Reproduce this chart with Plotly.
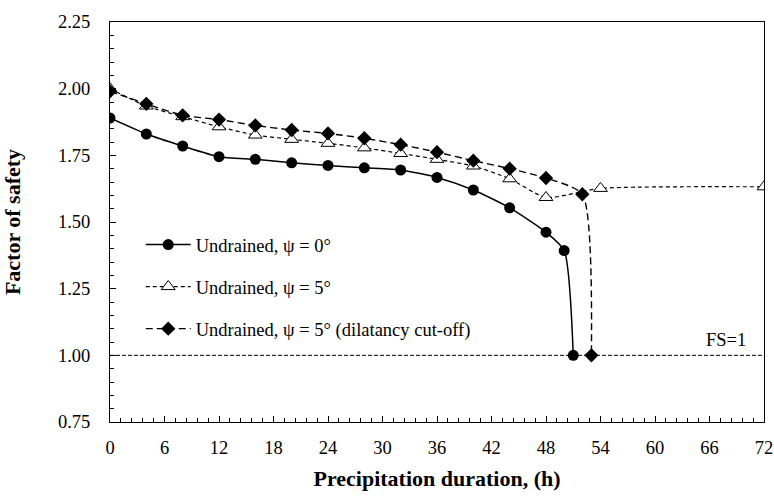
import plotly.graph_objects as go

# ---- data ----
hours_psi0 = [0, 4, 8, 12, 16, 20, 24, 28, 32, 36, 40, 44, 48, 50, 51]
fs_psi0 = [1.89, 1.83, 1.785, 1.745, 1.735, 1.722, 1.712, 1.703, 1.695, 1.667,
           1.62, 1.553, 1.462, 1.393, 1.0]

hours_psi5 = [0, 4, 8, 12, 16, 20, 24, 28, 32, 36, 40, 44, 48, 54, 72]
fs_psi5 = [2.0, 1.935, 1.895, 1.857, 1.826, 1.81, 1.795, 1.778, 1.757, 1.735,
           1.71, 1.662, 1.592, 1.626, 1.632]

hours_cut = [0, 4, 8, 12, 16, 20, 24, 28, 32, 36, 40, 44, 48, 52, 53]
fs_cut = [1.99, 1.943, 1.9, 1.884, 1.862, 1.845, 1.832, 1.814, 1.79, 1.762,
          1.73, 1.7, 1.665, 1.604, 1.0]

fs_line_x = [0, 72]
fs_line_y = [1.0, 1.0]

x_ticks = [0, 6, 12, 18, 24, 30, 36, 42, 48, 54, 60, 66, 72]
y_ticks = [0.75, 1.00, 1.25, 1.50, 1.75, 2.00, 2.25]
y_tick_text = ["0.75", "1.00", "1.25", "1.50", "1.75", "2.00", "2.25"]

FONT = "Liberation Serif, Times New Roman, serif"

fig = go.Figure()

fig.add_trace(go.Scatter(
    x=fs_line_x, y=fs_line_y, mode="lines", showlegend=False,
    line=dict(color="black", width=1, dash="4px,2px"), hoverinfo="skip"))

fig.add_trace(go.Scatter(
    x=hours_psi0, y=fs_psi0, mode="lines+markers",
    name="Undrained, \u03c8 = 0\u00b0", legendgroup="a",
    line=dict(color="black", width=1.5, shape="spline", smoothing=0.6),
    marker=dict(symbol="circle", size=11, color="black")))

fig.add_trace(go.Scatter(
    x=hours_psi5, y=fs_psi5, mode="lines+markers",
    name="Undrained, \u03c8 = 5\u00b0", legendgroup="b",
    line=dict(color="black", width=1.2, dash="4px,3px", shape="spline", smoothing=0.6),
    marker=dict(symbol="triangle-up", size=12, color="white",
                line=dict(color="black", width=1))))

fig.add_trace(go.Scatter(
    x=hours_cut, y=fs_cut, mode="lines+markers",
    name="Undrained, \u03c8 = 5\u00b0 (dilatancy cut-off)", legendgroup="c",
    line=dict(color="black", width=1.4, dash="7px,4px", shape="spline", smoothing=0.6),
    marker=dict(symbol="diamond", size=11, color="black")))

fig.add_annotation(x=67.8, y=1.0, text="FS=1", showarrow=False,
                   xanchor="center", yanchor="bottom", yshift=3,
                   font=dict(family=FONT, size=18.5, color="black"))

fig.update_layout(
    width=774, height=497,
    margin=dict(l=110, r=10, t=22, b=75),
    plot_bgcolor="white", paper_bgcolor="white",
    font=dict(family=FONT, size=18.5, color="black"),
    legend=dict(x=0.047, y=0.49, xanchor="left", yanchor="top",
                bgcolor="rgba(0,0,0,0)", font=dict(family=FONT, size=18.5),
                tracegroupgap=15, traceorder="grouped", itemwidth=45),
    xaxis=dict(range=[0, 72], tickvals=x_ticks, showgrid=False, zeroline=False,
               automargin=False,
               showline=True, linecolor="black", linewidth=1, mirror=True,
               ticks="inside", ticklen=6, tickcolor="black", ticklabelstandoff=9,
               minor=dict(dtick=1.2, ticks="inside", ticklen=4, tickcolor="black", showgrid=False),
               tickfont=dict(family=FONT, size=18.5),
               title=dict(text="<b>Precipitation duration, (h)</b>",
                          font=dict(family=FONT, size=22), standoff=13)),
    yaxis=dict(range=[0.75, 2.25], tickvals=y_ticks, ticktext=y_tick_text,
               showgrid=False, zeroline=False, automargin=False,
               showline=True, linecolor="black", linewidth=1, mirror=True,
               ticks="inside", ticklen=6, tickcolor="black", ticklabelstandoff=15,
               minor=dict(dtick=0.05, ticks="inside", ticklen=4, tickcolor="black", showgrid=False),
               tickfont=dict(family=FONT, size=18.5),
               title=dict(text="<b>Factor of safety</b>",
                          font=dict(family=FONT, size=22), standoff=31)),
)

fig.write_html(
    "out.html",
    config={"displayModeBar": False},
    post_script="document.body.style.margin='0';document.body.style.overflow='hidden';",
)
